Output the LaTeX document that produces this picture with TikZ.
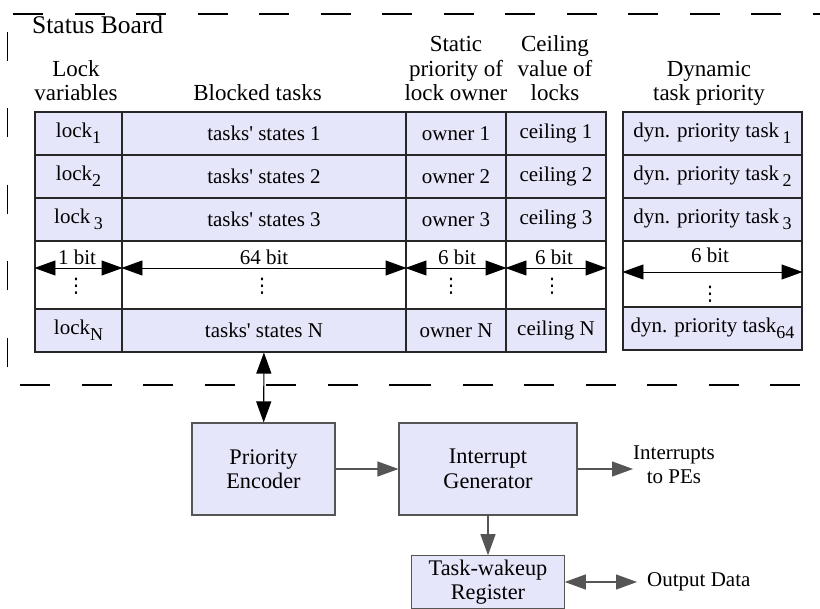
\documentclass[tikz,border=0pt]{standalone}
\usepackage{fontspec}
\setmainfont{Liberation Serif}
\newfontfamily\dotsfont{DejaVu Sans}
\usetikzlibrary{positioning, arrows.meta}
\definecolor{cellfill}{RGB}{230,230,250}
\definecolor{boxline}{RGB}{85,85,85}
\newcommand\idx[1]{\raisebox{-6pt}{\fontsize{18}{18}\selectfont #1}}

\begin{document}
\begin{tikzpicture}[
		% GLOBAL CFG
		x=1pt, y=-1pt,
		font=\fontsize{21}{24.5}\selectfont,
		>={Triangle[length=21pt,width=15pt]},
		% Styles
		cell/.style={% One field of the board
			rectangle,
			draw=black!85,
			fill=cellfill,
			line width=1.1pt,
			inner sep=0pt,
			minimum height=43pt,
		},
		widthrow/.style={% The row that gives the widths
			cell,
			fill=white,
		},
		head/.style={% Column titles
			align=center,
			anchor=south,
			inner sep=0pt,
			text depth=0pt,
			font=\fontsize{23}{24.5}\selectfont,
		},
		block/.style={% Units under the board
			rectangle,
			draw=boxline,
			fill=cellfill,
			line width=1.1pt,
			align=center,
			inner sep=0pt,
			font=\fontsize{22.3}{24.5}\selectfont,
		},
		note/.style={% Free texts
			align=center,
			inner sep=0pt,
		},
		vdots/.style={% Three dots
			inner sep=0pt,
			font=\dotsfont\fontsize{20}{20}\selectfont,
		},
		Frame/.style={% Dashed outline of the board
			line width=1.3pt,
			dash pattern=on 30pt off 31.5pt,
		},
		BitArrow/.style={% Width arrows
			<->,
			line width=0.9pt,
		},
		Arrow/.style={% Arrows between units
			line width=1.1pt,
			draw=boxline,
		},
		]
		\useasboundingbox (0,0) rectangle (820,609);
		
		% Dashed outline
		\draw [Frame] (13,14) -- (820,14);
		\draw [Frame, dash pattern=on 29pt off 47.5pt] (7.5,32) -- (7.5,370);
		\draw [Frame] (20,385) -- (419,385);
		\draw [Frame] (401,385) -- (800,385);
		
		\node [anchor=base west, inner sep=0pt, font=\fontsize{25.5}{30}\selectfont] (title) at (32,34) {Status Board};
		
		% Column titles named h#
		\node [head] (hLock) at (76,101) {Lock\\variables};
		\node [head] (hTask) at (257.5,101) {Blocked tasks};
		\node [head] (hOwn) at (456,101) {Static\\priority of\\lock owner};
		\node [head] (hCeil) at (555,101) {Ceiling\\value of\\locks};
		\node [head] (hDyn) at (709,101) {Dynamic\\task priority};
		
		% Board rows
		\node [cell, minimum width=87pt] (lock1) at (78.5,133.5) {lock\idx{1}};
		\node [cell, minimum width=284pt] (task1) at (264,133.5) {tasks\textquotesingle{} states 1};
		\node [cell, minimum width=100pt] (own1) at (456,133.5) {owner 1};
		\node [cell, minimum width=100pt] (ceil1) at (556,133.5) {ceiling 1};
		\node [cell, minimum width=179pt] (dyn1) at (712.5,133.5) {dyn. priority task\,\idx{1}};
		
		\node [cell, minimum width=87pt] (lock2) at (78.5,176.5) {lock\idx{2}};
		\node [cell, minimum width=284pt] (task2) at (264,176.5) {tasks\textquotesingle{} states 2};
		\node [cell, minimum width=100pt] (own2) at (456,176.5) {owner 2};
		\node [cell, minimum width=100pt] (ceil2) at (556,176.5) {ceiling 2};
		\node [cell, minimum width=179pt] (dyn2) at (712.5,176.5) {dyn. priority task\,\idx{2}};
		
		\node [cell, minimum width=87pt] (lock3) at (78.5,219.5) {lock\,\idx{3}};
		\node [cell, minimum width=284pt] (task3) at (264,219.5) {tasks\textquotesingle{} states 3};
		\node [cell, minimum width=100pt] (own3) at (456,219.5) {owner 3};
		\node [cell, minimum width=100pt] (ceil3) at (556,219.5) {ceiling 3};
		\node [cell, minimum width=179pt] (dyn3) at (712.5,219.5) {dyn. priority task\,\idx{3}};
		
		\node [widthrow, minimum width=87pt, minimum height=68pt] (lockW) at (78.5,275) {};
		\node [widthrow, minimum width=284pt, minimum height=68pt] (taskW) at (264,275) {};
		\node [widthrow, minimum width=100pt, minimum height=68pt] (ownW) at (456,275) {};
		\node [widthrow, minimum width=100pt, minimum height=68pt] (ceilW) at (556,275) {};
		\node [widthrow, minimum width=179pt, minimum height=66pt] (dynW) at (712.5,274) {};
		
		\node [cell, minimum width=87pt] (lockN) at (78.5,330.5) {lock\idx{N}};
		\node [cell, minimum width=284pt] (taskN) at (264,330.5) {tasks\textquotesingle{} states N};
		\node [cell, minimum width=100pt] (ownN) at (456,330.5) {owner N};
		\node [cell, minimum width=100pt] (ceilN) at (556,330.5) {ceiling N};
		\node [cell, minimum width=179pt] (dynN) at (712.5,328.5) {dyn. priority task\idx{64}};
		
		% Widths
		\draw [BitArrow] ([yshift=7pt]lockW.west) -- ([yshift=7pt]lockW.east);
		\draw [BitArrow] ([yshift=7pt]taskW.west) -- ([yshift=7pt]taskW.east);
		\draw [BitArrow] ([yshift=7pt]ownW.west) -- ([yshift=7pt]ownW.east);
		\draw [BitArrow] ([yshift=7pt]ceilW.west) -- ([yshift=7pt]ceilW.east);
		\draw [BitArrow] ([yshift=2pt]dynW.west) -- ([yshift=2pt]dynW.east);
		
		\node [note] (bLock) at (77,257) {1 bit};
		\node [note] (bTask) at (264,257) {64 bit};
		\node [note] (bOwn) at (457,257) {6 bit};
		\node [note] (bCeil) at (554,257) {6 bit};
		\node [note] (bDyn) at (710,255) {6 bit};
		
		\node [vdots] (dLock) at (76,286) {⋮};
		\node [vdots] (dTask) at (262,286) {⋮};
		\node [vdots] (dOwn) at (451,286) {⋮};
		\node [vdots] (dCeil) at (552,286) {⋮};
		\node [vdots] (dDyn) at (710,294) {⋮};
		
		% Units
		\node [block, minimum width=143pt, minimum height=92pt] (prio) at (263.5,469) {Priority\\Encoder};
		\node [block, minimum width=178pt, minimum height=92pt] (intgen) at (488,469) {Interrupt\\Generator};
		\node [block, minimum width=152.5pt, minimum height=52.5pt] (wake) at (488,582) {Task-wakeup\\Register};
		
		\node [note, anchor=west] (irq) at (633,464.5) {Interrupts\\to PEs};
		\node [note, anchor=west] (outdata) at (647,582) {Output Data};
		
		% Connections
		\draw [<->, line width=1.1pt] (taskN) -- (prio);
		\draw [->, Arrow] (prio) -- (intgen);
		\draw [->, Arrow] (intgen) -- (intgen -| irq.west);
		\draw [->, Arrow] (intgen) -- (wake);
		\draw [<->, Arrow] (wake) -- ([xshift=-10pt]outdata.west);
		
	\end{tikzpicture}
\end{document}
